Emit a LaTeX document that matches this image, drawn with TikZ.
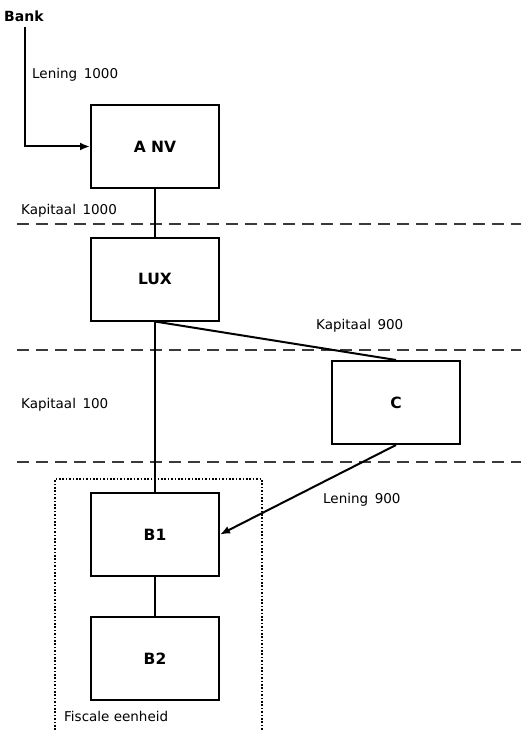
\documentclass[tikz,border=0pt]{standalone}
\usepackage{fontspec}
\setmainfont{DejaVu Sans}
\usetikzlibrary{arrows.meta,positioning}
\definecolor{cbDash}{HTML}{3A3A3A}

\begin{document}
\begin{tikzpicture}[x=1pt,y=-1pt,font=\fontsize{13.5}{16}\selectfont,
  b/.style={draw,line width=2pt,minimum width=128pt,minimum height=83pt,
            font=\fontsize{15.5}{18}\selectfont\bfseries},
  lbl/.style={anchor=west,inner sep=0pt},
  sep/.style={cbDash,line width=2.4pt,dash pattern=on 12pt off 7pt},
  con/.style={line width=2pt},
  pijl/.style={con,-{Latex[length=10pt,width=8pt]}}]
\useasboundingbox (0,0) rectangle (521,730);
\node[b] (anv) at (155,146.5) {A NV};
\node[b] (lux) at (155,279) {LUX};
\node[b] (c)   at (396,402.5) {C};
\node[b] (b1)  at (155,534.5) {B1};
\node[b] (b2)  at (155,658.5) {B2};
\node[anchor=west,inner sep=0pt,font=\fontsize{14}{16}\selectfont\bfseries] (bank) at (4,16) {Bank};

\node[lbl] at (32,75)  {Lening\ \,1000};
\node[lbl] at (21,211) {Kapitaal\ \,1000};
\node[lbl] at (316,326) {Kapitaal\ \,900};
\node[lbl] at (21,405) {Kapitaal\ \,100};
\node[lbl] at (323,500) {Lening\ \,900};
\node[lbl] at (64,716) {Fiscale eenheid};

% lagen
\draw[sep] (17,224) -- (521,224);
\draw[sep] (17,350) -- (521,350);
\draw[sep] (17,462) -- (521,462);

% fiscale eenheid
\draw[line width=1.6pt,dash pattern=on 1.6pt off 1.8pt] (55,730) |- (262,479) -- (262,730);

\draw[pijl] (25,27) |- (anv.west);
\draw[con] (anv) -- (lux);
\draw[con] (lux.south) -- (c.north);
\draw[con] (lux.south) -- (b1.north);
\draw[pijl] (c.south) -- (b1.east);
\draw[con] (b1) -- (b2);
\end{tikzpicture}
\end{document}
